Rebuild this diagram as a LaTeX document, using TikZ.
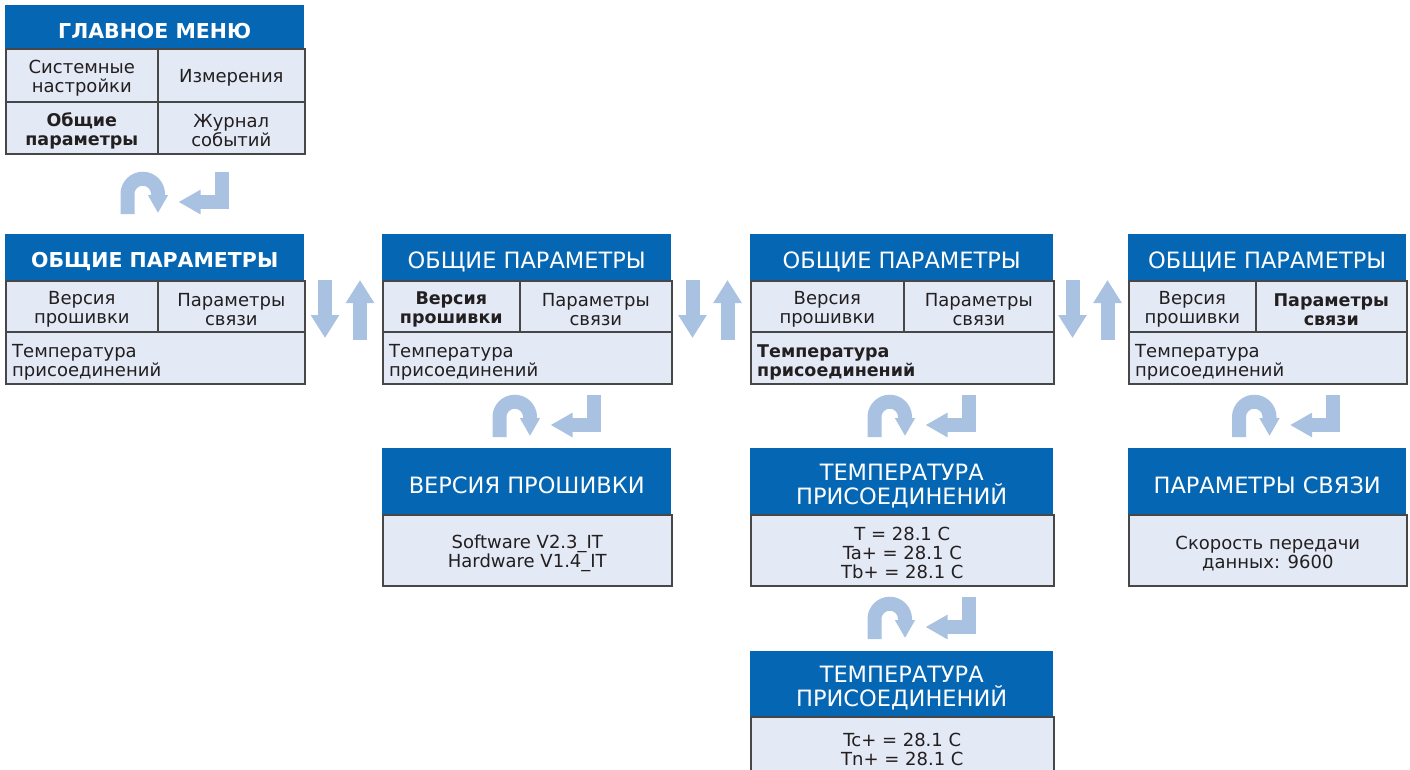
\documentclass[tikz,border=0pt]{standalone}
\usepackage{fontspec}
\setmainfont{DejaVu Sans}
\usetikzlibrary{arrows.meta,positioning}

\definecolor{hdrblue}{HTML}{0567B3}
\definecolor{cellbg}{HTML}{E3E9F5}
\definecolor{framegray}{HTML}{474747}
\definecolor{navblue}{HTML}{A9C2E1}
\definecolor{inktext}{HTML}{231F20}

\tikzset{
  hdr/.style={fill=hdrblue, inner sep=0pt, anchor=north west},
  cell/.style={draw=framegray, line width=1.6pt, fill=cellbg, inner sep=0pt, anchor=north west},
  hdrtxt/.style={text=white, inner sep=0pt, align=center, yshift=-4.5pt},
  hdrreg/.style={hdrtxt, font=\fontsize{22.5}{24}\selectfont},
  hdrbold/.style={hdrtxt, font=\bfseries\fontsize{20.5}{24}\selectfont},
  celltxt/.style={text=inktext, inner sep=0pt, align=center, yshift=-3pt},
  txt/.style={celltxt, font=\fontsize{18}{19}\selectfont},
  txtb/.style={celltxt, font=\bfseries\fontsize{17.5}{19}\selectfont},
  navline/.style={draw=navblue, line width=14pt},
  vnav/.style={navline, -{Triangle[length=23pt,width=27pt]}},
  navkeys/.pic={
    \draw[navline,-{Triangle[length=18pt,width=19pt]}] (-27,42) -- (-27,22)
      arc[start angle=180,end angle=360,radius=15.25] -- (3.5,41);
    \draw[navline,-{Triangle[length=22pt,width=23pt]}] (67,0) -- (67,30) -- (24,30);
  }
}

\begin{document}
\begin{tikzpicture}[x=1pt,y=-1pt]
  \useasboundingbox[fill=white] (0,0) rectangle (1410,769);

  % main menu
  \node[hdr,minimum width=299,minimum height=43] (gm) at (5,5) {};
  \node[cell,minimum width=152,minimum height=53] (gm-a) at (5,48) {};
  \node[cell,minimum width=147,minimum height=53] (gm-b) at (157,48) {};
  \node[cell,minimum width=152,minimum height=52] (gm-c) at (5,101) {};
  \node[cell,minimum width=147,minimum height=52] (gm-d) at (157,101) {};
  \node[hdrbold] (gm-t) at (gm) {ГЛАВНОЕ МЕНЮ};
  \node[txt] (gm-at) at (gm-a) {Системные\\настройки};
  \node[txt] (gm-bt) at (gm-b) {Измерения};
  \node[txtb] (gm-ct) at (gm-c) {Общие\\параметры};
  \node[txt] (gm-dt) at (gm-d) {Журнал\\событий};
  \pic at (154.5,172) {navkeys};

  % general parameters, one per selected item
  \foreach \n/\x/\w/\d/\hf/\fa/\fb/\fc in {
      1/5/299/152/hdrbold/txt/txt/txt,
      2/382/289/137/hdrreg/txtb/txt/txt,
      3/750/303/153/hdrreg/txt/txt/txtb,
      4/1128/278/127/hdrreg/txt/txtb/txt}{
    \pgfmathsetmacro\rw{\w-\d}
    \node[hdr,minimum width=\w,minimum height=46] (g\n) at (\x,234) {};
    \node[cell,minimum width=\d,minimum height=51] (g\n a) at (\x,280) {};
    \node[cell,minimum width=\rw,minimum height=51] (g\n b) at (\x+\d,280) {};
    \node[cell,minimum width=\w,minimum height=52] (g\n c) at (\x,331) {};
    \node[\hf] (g\n t) at (g\n) {ОБЩИЕ ПАРАМЕТРЫ};
    \node[\fa] (g\n at) at (g\n a) {Версия\\прошивки};
    \node[\fb] (g\n bt) at (g\n b) {Параметры\\связи};
    \node[\fc,align=left,anchor=west,yshift=-2pt] (g\n ct) at ([xshift=7pt]g\n c.west) {Температура\\присоединений};
  }

  % up / down keys between the screens
  \foreach \gx in {343,710.5,1090.5}{
    \draw[vnav] (\gx-18,280) -- (\gx-18,338);
    \draw[vnav] (\gx+17,340) -- (\gx+17,280);
  }

  \pic at (526.5,395) {navkeys};
  \pic at (901.5,395) {navkeys};
  \pic at (1266,395) {navkeys};

  % firmware
  \node[hdr,minimum width=289,minimum height=66] (fw) at (382,448) {};
  \node[cell,minimum width=289,minimum height=71] (fw-b) at (382,514) {};
  \node[hdrreg] (fw-t) at (fw) {ВЕРСИЯ ПРОШИВКИ};
  \node[txt] (fw-bt) at (fw-b) {Software V2.3\_IT\\Hardware V1.4\_IT};

  % temperatures
  \node[hdr,minimum width=303,minimum height=66] (tc) at (750,448) {};
  \node[cell,minimum width=303,minimum height=71] (tc-b) at (750,514) {};
  \node[hdrreg] (tc-t) at (tc) {ТЕМПЕРАТУРА\\ПРИСОЕДИНЕНИЙ};
  \node[txt] (tc-bt) at (tc-b) {T = 28.1 C\\Ta+ = 28.1 C\\Tb+ = 28.1 C};
  \pic at (901.5,597) {navkeys};
  \node[hdr,minimum width=303,minimum height=65] (tn) at (750,651) {};
  \node[cell,minimum width=303,minimum height=60] (tn-b) at (750,716) {};
  \node[hdrreg] (tn-t) at (tn) {ТЕМПЕРАТУРА\\ПРИСОЕДИНЕНИЙ};
  \node[txt] (tn-bt) at (tn-b) {Tc+ = 28.1 C\\Tn+ = 28.1 C};

  % link settings
  \node[hdr,minimum width=278,minimum height=66] (ln) at (1128,448) {};
  \node[cell,minimum width=278,minimum height=71] (ln-b) at (1128,514) {};
  \node[hdrreg] (ln-t) at (ln) {ПАРАМЕТРЫ СВЯЗИ};
  \node[txt] (ln-bt) at (ln-b) {Скорость передачи\\данных: 9600};
\end{tikzpicture}
\end{document}
